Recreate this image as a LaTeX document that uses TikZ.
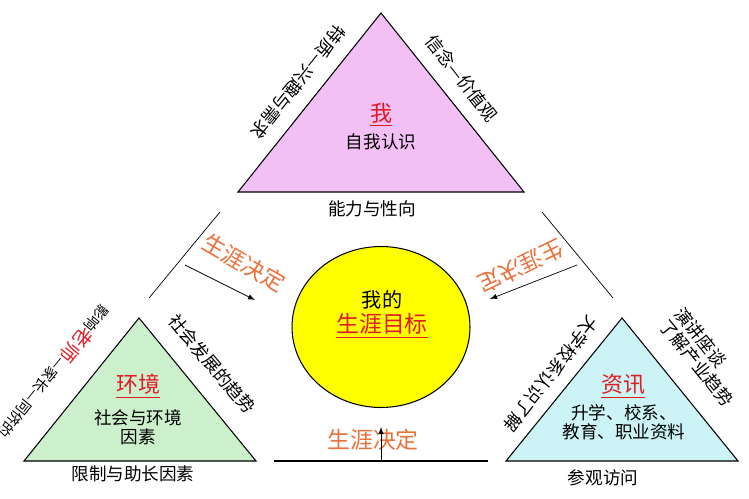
\documentclass[tikz,border=0pt]{standalone}
\usepackage{fontspec}
\setmainfont{Noto Sans CJK SC}
\usetikzlibrary{shapes,arrows,positioning,calc}
\definecolor{selfpink}{RGB}{242,192,244}
\definecolor{envgreen}{RGB}{204,240,204}
\definecolor{infocyan}{RGB}{204,244,246}
\definecolor{goalyellow}{RGB}{255,255,0}
\definecolor{keyred}{RGB}{226,26,36}
\definecolor{decorange}{RGB}{234,112,58}

\begin{document}
\begin{tikzpicture}[x=0.02cm, y=-0.02cm,
    font=\fontsize{10}{11}\selectfont,
    tri/.style={draw=black, line width=0.6pt},
    headword/.style={text=keyred, font=\fontsize{12.5}{14}\selectfont},
    decide/.style={text=decorange, font=\fontsize{13}{15}\selectfont},
    sidetext/.style={inner sep=1pt}]
  \useasboundingbox (0,0) rectangle (749,499);

  % Self triangle
  \coordinate (me apex) at (381,13);
  \coordinate (me left) at (238,192);
  \coordinate (me right) at (524,192);
  \draw[tri, fill=selfpink] (me apex) -- (me left) -- (me right) -- cycle;
  \node[headword] (me) at (381,115) {\underline{我}};
  \node (me sub) at (381,142) {自我认识};
  \node (me base) at (372,209) {能力与性向};
  \node[sidetext, rotate=231] (me side l) at (298,82) {特质—兴趣与需求};
  \node[sidetext, rotate=-52] (me side r) at (462,78) {信念—价值观};

  % Environment triangle
  \coordinate (env apex) at (139,318);
  \coordinate (env left) at (24,461);
  \coordinate (env right) at (256,461);
  \draw[tri, fill=envgreen] (env apex) -- (env left) -- (env right) -- cycle;
  \node[headword] (env) at (138,386) {\underline{环境}};
  \node[align=center] (env sub) at (138,427) {社会与环境\\因素};
  \node (env base) at (133,474) {限制与助长因素};
  \node[sidetext, rotate=231, font=\fontsize{8.2}{10}\selectfont] (env side l) at (55,372)
    {影响{\color{keyred}\fontsize{11}{13}\selectfont 老师}—家长—同侪的};
  \node[sidetext, rotate=-50] (env side r) at (212,364) {社会发展的趋势};

  % Information triangle
  \coordinate (info apex) at (622,318);
  \coordinate (info left) at (506,461);
  \coordinate (info right) at (738,461);
  \draw[tri, fill=infocyan] (info apex) -- (info left) -- (info right) -- cycle;
  \node[headword] (info) at (623,386) {\underline{资讯}};
  \node[align=center] (info sub) at (624,422) {升学、校系、\\教育、职业资料};
  \node (info base) at (603,478) {参观访问};
  \node[sidetext, rotate=232] (info side l) at (551,374) {大学校系认识了解};
  \node[sidetext, rotate=-51, align=left] (info side r) at (704,357)
    {演讲座谈\\了解产业趋势};

  % Goal
  \node[draw, ellipse, fill=goalyellow, line width=0.6pt,
    minimum width=3.56cm, minimum height=3.22cm] (goal) at (381,327) {};
  \node[font=\fontsize{11.5}{13}\selectfont] (goal top) at (382,300) {我的};
  \node[headword, font=\fontsize{13}{15}\selectfont] (goal name) at (382,326)
    {\underline{生涯目标}};

  % Decisions
  \coordinate (low l) at (274,461);
  \coordinate (low r) at (488,461);
  \coordinate (low tail) at (381,461);
  \coordinate (low tip) at (381,427);
  \draw[line width=0.6pt] (low l) -- (low r);
  \node[decide] (decide low) at (373,440) {生涯决定};
  \draw[-latex] (low tail) -- (low tip);

  \coordinate (wing l top) at (220,212);
  \coordinate (wing l bot) at (149,298);
  \coordinate (arr l tail) at (185,265);
  \coordinate (arr l tip) at (255,300);
  \draw (wing l top) -- (wing l bot);
  \draw[-latex] (arr l tail) -- (arr l tip);
  \node[decide, rotate=-30] (decide l) at (244,263) {生涯决定};

  \coordinate (wing r top) at (542,212);
  \coordinate (wing r bot) at (613,298);
  \coordinate (arr r tail) at (577,265);
  \coordinate (arr r tip) at (490,299);
  \draw (wing r top) -- (wing r bot);
  \draw[-latex] (arr r tail) -- (arr r tip);
  \node[decide, rotate=206] (decide r) at (521,266) {生涯决定};
\end{tikzpicture}
\end{document}
